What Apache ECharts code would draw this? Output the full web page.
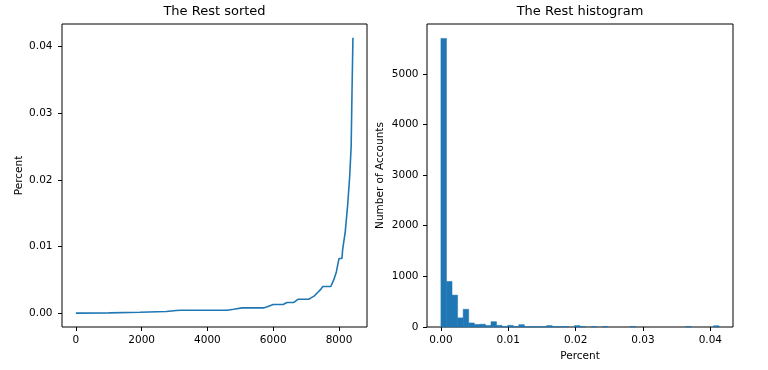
<!DOCTYPE html>
<html>
<head>
<meta charset="utf-8">
<script src="https://cdn.jsdelivr.net/npm/echarts@6/dist/echarts.min.js"></script>
<style>html,body{margin:0;padding:0;background:#fff}#c{width:768px;height:370px}</style>
</head>
<body>
<div id="c"></div>
<script>
// ---- Data ----
// Left: sorted values (index, percent)
const sortedIdx = [0, 1000, 1950, 2750, 3050, 3200, 4600, 4800, 5050, 5700, 5800, 6000, 6300, 6420, 6620, 6760, 7080, 7150, 7250, 7330, 7430, 7510, 7750, 7840, 7920, 7960, 8000, 8090, 8110, 8140, 8160, 8190, 8240, 8265, 8305, 8325, 8350, 8370, 8395, 8424];
const sortedPct = [0.00002, 0.00006, 0.00015, 0.00025, 0.0004, 0.00045, 0.00045, 0.0006, 0.0008, 0.0008, 0.00095, 0.0013, 0.0013, 0.0016, 0.0016, 0.0021, 0.0021, 0.0023, 0.0026, 0.0030, 0.0035, 0.0040, 0.0040, 0.0050, 0.0062, 0.0072, 0.0082, 0.0082, 0.0095, 0.0105, 0.0106, 0.0122, 0.0122, 0.0163, 0.0163, 0.0205, 0.0205, 0.025, 0.033, 0.0413];
// Right: histogram, 50 equal bins from histMin to histMax
const histMin = 0;
const histMax = 0.0413;
const histCounts = [5700, 900, 630, 180, 350, 80, 50, 55, 30, 105,
                    33, 8, 33, 8, 46, 5, 6, 5, 5, 28,
                    6, 5, 10, 0, 28, 8, 0, 10, 0, 10,
                    0, 0, 0, 0, 10, 0, 0, 0, 0, 0,
                    0, 0, 0, 0, 10, 0, 0, 0, 0, 25];
// Tick labels
const leftXTicks = [0, 2000, 4000, 6000, 8000];
const leftYTicks = [0, 0.01, 0.02, 0.03, 0.04];
const rightXTicks = [0, 0.01, 0.02, 0.03, 0.04];
const rightYTicks = [0, 1000, 2000, 3000, 4000, 5000];

const titles = ['The Rest sorted', 'The Rest histogram'];

// ---- Build ----
const FONT = 'DejaVu Sans';
const BLUE = '#1f77b4';
const lineData = sortedIdx.map((x, i) => [x, sortedPct[i]]);
const binW = (histMax - histMin) / histCounts.length;
const histData = histCounts.map((c, i) => [histMin + i * binW, histMin + (i + 1) * binW, c]);

// matplotlib-style 5% margins
function pad(lo, hi) { const m = (hi - lo) * 0.05; return [lo - m, hi + m]; }
const lx = pad(0, sortedIdx[sortedIdx.length - 1] + 6);
const ly = pad(0, histMax);
const ry = [0, Math.max(...histCounts) * 1.05];

function axisCommon(ticks, fmt, margin) {
  return {
    axisLine: { show: false, onZero: false },
    splitLine: { show: false },
    axisTick: { show: true, length: 4, lineStyle: { color: '#000', width: 1 }, customValues: ticks },
    axisLabel: { color: '#000', fontFamily: FONT, fontSize: 10.5, margin: margin, customValues: ticks, formatter: fmt }
  };
}
const nameStyle = { color: '#000', fontFamily: FONT, fontSize: 10.5 };

const option = {
  animation: false,
  backgroundColor: '#fff',
  title: [
    { text: titles[0], left: 214.5, top: 5, textAlign: 'center', padding: 0,
      textStyle: { fontFamily: FONT, fontSize: 13, fontWeight: 'normal', color: '#000' } },
    { text: titles[1], left: 580, top: 5, textAlign: 'center', padding: 0,
      textStyle: { fontFamily: FONT, fontSize: 13, fontWeight: 'normal', color: '#000' } }
  ],
  grid: [
    { left: 62, top: 24, width: 305, height: 303, show: true, borderColor: '#000', borderWidth: 1, backgroundColor: 'transparent' },
    { left: 427, top: 24, width: 306, height: 303, show: true, borderColor: '#000', borderWidth: 1, backgroundColor: 'transparent' }
  ],
  xAxis: [
    Object.assign({ type: 'value', gridIndex: 0, min: lx[0], max: lx[1] },
      axisCommon(leftXTicks, v => String(Math.round(v)), 7.5)),
    Object.assign({ type: 'value', gridIndex: 1, min: ly[0], max: ly[1],
      name: 'Percent', nameLocation: 'middle', nameGap: 22.5, nameTextStyle: nameStyle },
      axisCommon(rightXTicks, v => v.toFixed(2), 7.5))
  ],
  yAxis: [
    Object.assign({ type: 'value', gridIndex: 0, min: ly[0], max: ly[1],
      name: 'Percent', nameLocation: 'middle', nameGap: 37.5, nameTextStyle: nameStyle },
      axisCommon(leftYTicks, v => v.toFixed(2), 9.5)),
    Object.assign({ type: 'value', gridIndex: 1, min: ry[0], max: ry[1],
      name: 'Number of Accounts', nameLocation: 'middle', nameGap: 41, nameTextStyle: nameStyle },
      axisCommon(rightYTicks, v => String(Math.round(v)), 8.5))
  ],
  series: [
    { type: 'line', xAxisIndex: 0, yAxisIndex: 0, data: lineData, showSymbol: false,
      lineStyle: { color: BLUE, width: 1.6 }, itemStyle: { color: BLUE } },
    { type: 'custom', xAxisIndex: 1, yAxisIndex: 1, data: histData,
      encode: { x: [0, 1], y: 2 },
      renderItem: function (params, api) {
        if (!api.value(2)) return null;
        const p0 = api.coord([api.value(0), api.value(2)]);
        const p1 = api.coord([api.value(1), 0]);
        return { type: 'rect', shape: { x: p0[0], y: p0[1], width: p1[0] - p0[0], height: p1[1] - p0[1] },
          style: { fill: BLUE, stroke: BLUE, lineWidth: 0.5 } };
      } }
  ]
};
const chart = echarts.init(document.getElementById('c'), null, { renderer: 'canvas' });
chart.setOption(option);
</script>
</body>
</html>
